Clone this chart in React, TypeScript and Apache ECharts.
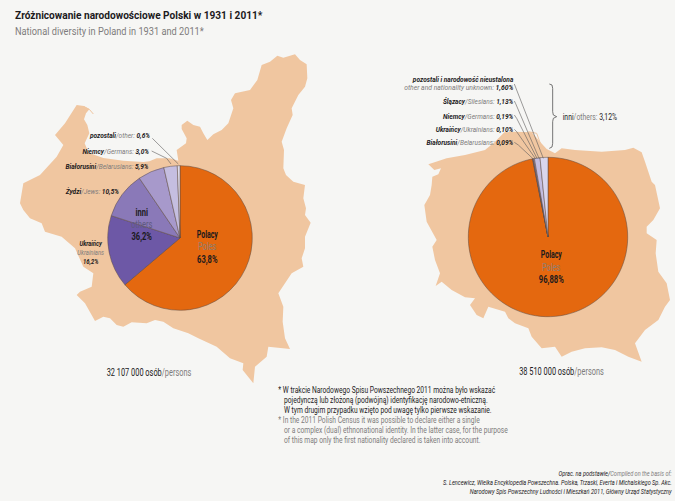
import React, { useEffect, useRef } from "react";
import * as echarts from "echarts";

// ---------- data ----------
const groups1931Pl = ["Polacy", "Ukraińcy", "Żydzi", "Białorusini", "Niemcy", "pozostali"];
const groups1931En = ["Poles", "Ukrainians", "Jews", "Belarusians", "Germans", "other"];
const values1931 = [63.8, 16.2, 10.5, 5.9, 3.0, 0.6];
const colors1931 = ["#e4680f", "#6d58a6", "#8a79b8", "#a799cb", "#c5bee0", "#dfdcea"];

const groups2011Pl = ["Polacy", "Białorusini", "Ukraińcy", "Niemcy", "Ślązacy", "pozostali i narodowość nieustalona"];
const groups2011En = ["Poles", "Belarusians", "Ukrainians", "Germans", "Silesians", "other and nationality unknown"];
const values2011 = [96.88, 0.09, 0.1, 0.19, 1.13, 1.6];
const colors2011 = ["#e4680f", "#8a79b8", "#a799cb", "#b3a9d6", "#c3bde0", "#d9d6ec"];

const others1931 = "36,2%";
const others2011 = "3,12%";
const total1931 = "32 107 000";
const total2011 = "38 510 000";

const titlePl = "Zróżnicowanie narodowościowe Polski w 1931 i 2011*";
const titleEn = "National diversity in Poland in 1931 and 2011*";
const notePl = [
  "* W trakcie Narodowego Spisu Powszechnego 2011 można było wskazać",
  "pojedynczą lub złożoną (podwójną) identyfikację narodowo-etniczną.",
  "W tym drugim przypadku wzięto pod uwagę tylko pierwsze wskazanie.",
];
const noteEn = [
  "* In the 2011 Polish Census it was possible to declare either a single",
  "or a complex (dual) ethnonational identity. In the latter case, for the purpose",
  "of this map only the first nationality declared is taken into account.",
];
const sourceLine2 = "S. Lencewicz, Wielka Encyklopedia Powszechna. Polska, Trzaski, Everta i Michalskiego Sp. Akc.";
const sourceLine3 = "Narodowy Spis Powszechny Ludności i Mieszkań 2011, Główny Urząd Statystyczny";

// ---------- background map outlines ----------
type P = number[][];
const from = (ox: number, oy: number, pts: P) => pts.map(([x, y]) => [ox + x / 3, oy + y / 3]);

const map1931 = [
  ...from(10, 90, [
    [200, 45], [222, 48], [238, 58], [228, 70], [222, 88], [232, 105], [238, 130], [224, 160], [236, 188],
    [280, 204], [340, 212], [400, 216], [418, 214], [440, 205], [480, 205], [505, 212],
  ]),
  ...from(170, 45, [
    [20, 315], [48, 295], [50, 280], [35, 252], [35, 240], [52, 227], [70, 240], [90, 245], [100, 265], [112, 285],
    [130, 268], [155, 255], [175, 235], [190, 190], [183, 165], [195, 145], [240, 135], [262, 105], [275, 60],
    [300, 50], [322, 32], [340, 38], [375, 28], [390, 45], [410, 58], [412, 100], [405, 125], [385, 150],
    [365, 190], [368, 210], [350, 250], [335, 290], [342, 315], [340, 370], [348, 390], [370, 410], [405, 420],
    [400, 460], [408, 490], [405, 510],
  ]),
  ...from(0, 40, [[932, 548], [915, 590]]),
  ...from(60, 235, [
    [735, 40], [725, 70], [730, 95], [695, 115], [655, 175], [670, 215], [668, 260], [675, 310], [690, 342],
    [625, 335], [620, 365], [585, 395], [580, 445], [560, 420], [548, 405], [550, 385], [510, 370], [470, 335],
    [415, 310], [385, 295], [340, 280], [310, 260], [285, 255], [260, 265], [215, 262], [190, 275], [170, 270],
    [150, 250], [130, 245], [105, 258], [75, 205], [50, 180], [60, 170], [95, 155],
  ]),
  ...from(0, 40, [
    [280, 700], [250, 680], [225, 625], [185, 590], [135, 575], [125, 550], [90, 535], [70, 510], [60, 490], [70, 430],
    [120, 405], [170, 350], [190, 315], [165, 285], [195, 250],
  ]),
];
const hel1931 = from(10, 90, [[222, 50], [238, 58], [250, 72]]);

const map2011 = [
  ...from(415, 125, [
    [40, 118], [70, 108], [95, 100], [150, 90], [210, 75], [240, 50], [268, 22], [300, 20], [350, 22], [375, 50],
    [395, 72], [420, 85], [440, 70], [480, 75], [560, 80], [630, 75], [655, 68], [680, 82], [690, 110], [710, 170],
    [720, 180], [735, 250], [715, 285], [695, 305], [695, 325], [725, 345],
  ]),
  ...from(415, 240, [
    [722, 40], [730, 95], [755, 130], [765, 180], [750, 200], [730, 240], [690, 270], [660, 310], [680, 365],
    [640, 350], [600, 330], [560, 322], [510, 325], [470, 335], [440, 350], [420, 320], [380, 325], [350, 290],
    [340, 265], [300, 250], [280, 235], [270, 215], [220, 200], [205, 235], [185, 225], [165, 195], [180, 175],
    [150, 172], [110, 150], [80, 125], [62, 138], [75, 100], [60, 60], [52, 20], [65, 0],
  ]),
  ...from(415, 125, [
    [35, 290], [28, 240], [45, 210], [50, 180], [52, 155], [70, 148], [78, 130], [58, 135],
  ]),
];
const hel2011 = from(400, 65, [[385, 200], [410, 205], [425, 245], [432, 272], [445, 280]]);

// ---------- leader lines and brace ----------
const leaders = [
  from(10, 90, [[427, 145], [505, 222]]),
  from(10, 90, [[425, 183], [470, 205], [483, 222]]),
  from(400, 65, [[343, 57], [430, 280]]),
  from(400, 65, [[343, 108], [347, 116], [418, 282]]),
  from(400, 65, [[343, 150], [350, 160], [412, 282]]),
  from(400, 65, [[343, 193], [350, 200], [407, 282]]),
  from(400, 65, [[343, 232], [355, 240], [400, 282]]),
];
const brace = from(400, 65, [
  [448, 57], [456, 60], [458, 70], [458, 140], [460, 150], [470, 155], [460, 160], [458, 170],
  [458, 235], [456, 246], [448, 250],
]);

const FONT = "Roboto, sans-serif";
const INK = "#1c1a1c";
const GREY = "#7e7c7c";

const rich = (size: number, weight: string, style: string) => ({
  k: { fill: INK, fontSize: size, fontFamily: FONT, fontStyle: style, fontWeight: weight, lineHeight: size + 2 },
  g: { fill: GREY, fontSize: size, fontFamily: FONT, fontStyle: style, fontWeight: "normal", lineHeight: size + 2 },
});

const txt = (
  x: number, y: number, text: string, align: string,
  opts: { size?: number; weight?: string; italic?: boolean; fill?: string; sx?: number } = {},
) => {
  const size = opts.size ?? 9;
  const style = opts.italic ? "italic" : "normal";
  const weight = opts.weight ?? "normal";
  return {
    type: "text", x, y, z: 100, silent: true, scaleX: opts.sx ?? 0.76,
    style: {
      text, textAlign: align, textVerticalAlign: "middle",
      fill: opts.fill ?? INK, fontFamily: FONT, fontSize: size, fontWeight: weight, fontStyle: style,
      rich: rich(size, weight === "bold" ? "bold" : "normal", style),
    },
  };
};

const leaderLabel = (pl: string, en: string, value: number, digits: number) =>
  `{k|${pl}}{g|/${en}: }{k|${value.toFixed(digits).replace(".", ",")}%}`;

const pieSeries = (center: number[], r: number, names: string[], values: number[], colors: string[]) => ({
  type: "pie",
  center,
  radius: [0, r],
  startAngle: 90,
  clockwise: true,
  avoidLabelOverlap: false,
  label: { show: false },
  labelLine: { show: false },
  silent: true,
  minAngle: 0,
  data: names.map((name, i) => ({
    name,
    value: values[i],
    itemStyle: { color: colors[i], borderColor: "#5b4a44", borderWidth: 0.5 },
  })),
});

const L = { italic: true, weight: "bold", size: 7.8, sx: 0.84 };
const Lc = { italic: true, weight: "bold", size: 7.8, sx: 0.76 };
const P_ = { size: 10, weight: "bold", sx: 0.7 };

export default function App() {
  const ref = useRef<HTMLDivElement>(null);
  useEffect(() => {
    const chart = echarts.init(ref.current!, undefined, { renderer: "svg" });
    const polyFill = "#f0c6a0";
    const elements: any[] = [
      { type: "polygon", z: 0, silent: true, shape: { points: map1931 }, style: { fill: polyFill } },
      { type: "polygon", z: 0, silent: true, shape: { points: map2011 }, style: { fill: polyFill } },
      { type: "polyline", z: 0, silent: true, shape: { points: hel1931 }, style: { stroke: polyFill, lineWidth: 1, fill: "none" } },
      { type: "polyline", z: 0, silent: true, shape: { points: hel2011 }, style: { stroke: polyFill, lineWidth: 1, fill: "none" } },
      ...leaders.map((points) => ({
        type: "polyline", z: 90, silent: true, shape: { points }, style: { stroke: "#5c5a5a", lineWidth: 0.6, fill: "none" },
      })),
      { type: "polyline", z: 90, silent: true, shape: { points: brace }, style: { stroke: "#555", lineWidth: 0.8, fill: "none" } },

      txt(15, 15, titlePl, "left", { size: 11.5, weight: "bold", sx: 0.88 }),
      txt(15, 31, titleEn, "left", { size: 11, fill: GREY, sx: 0.84 }),

      // 1931 labels
      txt(150, 135.7, leaderLabel(groups1931Pl[5], groups1931En[5], values1931[5], 1), "right", L),
      txt(149, 151, leaderLabel(groups1931Pl[4], groups1931En[4], values1931[4], 1), "right", L),
      txt(148.5, 166.7, leaderLabel(groups1931Pl[3], groups1931En[3], values1931[3], 1), "right", L),
      txt(119, 191, leaderLabel(groups1931Pl[2], groups1931En[2], values1931[2], 1), "right", L),
      txt(90.7, 244, groups1931Pl[1], "center", Lc),
      txt(90.7, 252.7, groups1931En[1], "center", { italic: true, fill: GREY, size: 7.8 }),
      txt(90.7, 261.7, "16,2%", "center", Lc),
      txt(141.7, 212.7, "inni", "center", { size: 10, weight: "bold" }),
      txt(141.7, 225, "others", "center", { size: 10, fill: "#5f5a80" }),
      txt(141.7, 236.7, others1931, "center", { size: 10, weight: "bold" }),
      txt(207.3, 234.3, groups1931Pl[0], "center", P_),
      txt(207.3, 247, groups1931En[0], "center", { size: 10, fill: "#8f7f73", sx: 0.72 }),
      txt(207.3, 259.7, "63,8%", "center", { size: 10, weight: "bold" }),

      // 2011 labels
      txt(513.3, 79, groups2011Pl[5], "right", L),
      txt(513.3, 87.7, `{g|${groups2011En[5]}: }{k|${"1,60%"}}`, "right", { ...L, sx: 0.87 }),
      txt(513.3, 101.7, leaderLabel(groups2011Pl[4], groups2011En[4], values2011[4], 2), "right", L),
      txt(513.3, 116, leaderLabel(groups2011Pl[3], groups2011En[3], values2011[3], 2), "right", L),
      txt(513.3, 129.3, leaderLabel(groups2011Pl[2], groups2011En[2], values2011[2], 2), "right", L),
      txt(513.3, 142.7, leaderLabel(groups2011Pl[1], groups2011En[1], values2011[1], 2), "right", L),
      txt(562.7, 116.7, `{k|inni}{g|/others: }{k|${others2011}}`, "left", { size: 9 }),
      txt(551.3, 254.3, groups2011Pl[0], "center", P_),
      txt(551.3, 267.3, groups2011En[0], "center", { size: 10, fill: "#8f7f73", sx: 0.72 }),
      txt(551.3, 280, "96,88%", "center", { size: 10, weight: "bold" }),

      // totals
      txt(149, 372.7, `{k|${total1931} osób}{g|/persons}`, "center", { size: 10, sx: 0.74 }),
      txt(561.5, 372, `{k|${total2011} osób}{g|/persons}`, "center", { size: 10, sx: 0.74 }),

      // notes
      txt(278.3, 390, notePl[0], "left", { size: 8.8 }),
      txt(284, 400, notePl[1], "left", { size: 8.8 }),
      txt(284, 410, notePl[2], "left", { size: 8.8 }),
      txt(278.3, 420, noteEn[0], "left", { size: 8.8, fill: GREY }),
      txt(284, 430, noteEn[1], "left", { size: 8.8, fill: GREY }),
      txt(284, 440, noteEn[2], "left", { size: 8.8, fill: GREY }),

      // sources
      txt(671.7, 473.3, "{k|Oprac. na podstawie/}{g|Compiled on the basis of:}", "right", { italic: true, size: 7, sx: 0.8 }),
      txt(671.7, 482.7, sourceLine2, "right", { italic: true, size: 7, sx: 0.8 }),
      txt(671.7, 492.3, sourceLine3, "right", { italic: true, size: 7, sx: 0.81 }),
    ];
    chart.setOption({
      animation: false,
      backgroundColor: "#f6f6f4",
      tooltip: { show: false },
      graphic: { elements },
      series: [
        pieSeries([180, 238], 72.3, groups1931Pl, values1931, colors1931),
        pieSeries([548, 237], 79.7, groups2011Pl, values2011, colors2011),
      ],
    });
    return () => chart.dispose();
  }, []);
  return <div ref={ref} style={{ position: "absolute", left: 0, top: 0, width: 675, height: 501 }} />;
}
